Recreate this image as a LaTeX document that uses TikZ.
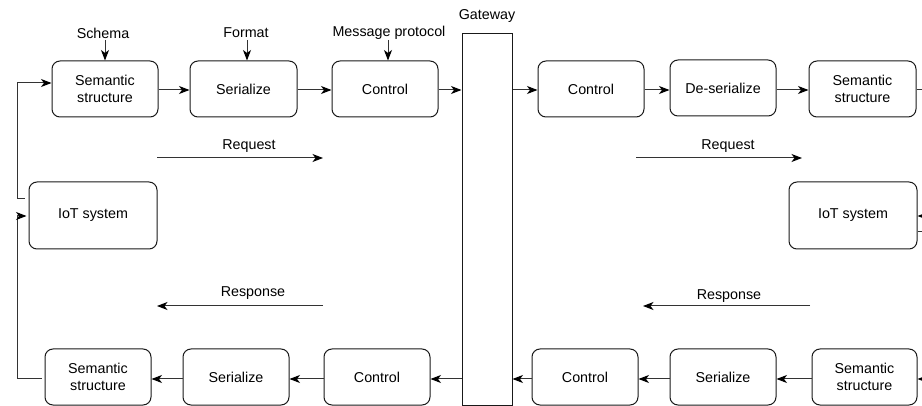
\documentclass[tikz,border=0pt]{standalone}
\usepackage{fontspec}
\setmainfont{Liberation Sans}
\usetikzlibrary{arrows.meta,calc}
\begin{document}
\begin{tikzpicture}[x=1pt,y=-1pt,
  box/.style={draw=black!90, rounded corners=8pt, line width=1pt, minimum width=106pt, minimum height=56pt, align=center, inner sep=0pt, font=\fontsize{14.3}{17}\selectfont},
  lbl/.style={font=\fontsize{14.3}{17}\selectfont, inner sep=0pt},
  conn/.style={draw=black!80, line width=1pt, -{Stealth[length=10.5pt,width=8pt,inset=3pt,color=black]}},
  wire/.style={draw=black!80, line width=1pt}]
\useasboundingbox (0,0) rectangle (922,406);
\clip (0,0) rectangle (922,406);
% gateway
\node[draw=black!90, line width=1pt, minimum width=50pt, minimum height=371pt, inner sep=0pt] (gw) at (487,219.5) {};
\node[lbl] (gwl) at (487,15.5) {Gateway};
% top row
\node[box] (ssTL) at (105,89) {Semantic\\structure};
\node[box, minimum width=107pt] (serTL) at (243.5,89) {Serialize};
\node[box] (ctlTL) at (385,89) {Control};
\node[box] (ctlTR) at (591,89) {Control};
\node[box] (deser) at (723,88) {De-serialize};
\node[box, minimum width=107pt] (ssTR) at (862.5,89) {Semantic\\structure};
% top labels
\node[lbl] (schema) at (103,33) {Schema};
\node[lbl] (format) at (246,33) {Format};
\node[lbl] (proto) at (389,33) {Message protocol};
\draw[conn] (105,40) -- (ssTL.north -| 105,0);
\draw[conn] (247,40) -- (serTL.north -| 247,0);
\draw[conn] (388,40) -- (ctlTL.north -| 388,0);
% IoT systems
\node[box, minimum width=128pt, minimum height=67pt] (iotL) at (93,215.5) {IoT system};
\node[box, minimum width=128pt, minimum height=67pt] (iotR) at (853,215.5) {IoT system};
% bottom row
\node[box] (ssBL) at (98,377) {Semantic\\structure};
\node[box] (serBL) at (236,377) {Serialize};
\node[box] (ctlBL) at (377,377) {Control};
\node[box] (ctlBR) at (585,377) {Control};
\node[box] (serBR) at (723,377) {Serialize};
\node[box, minimum width=105pt] (ssBR) at (864.5,377) {Semantic\\structure};
% top row connectors
\draw[conn] (ssTL.east |- 0,90) -- (serTL.west |- 0,90);
\draw[conn] (serTL.east |- 0,90) -- (ctlTL.west |- 0,90);
\draw[conn] (ctlTL.east |- 0,90) -- (gw.west |- 0,90);
\draw[conn] (gw.east |- 0,90) -- (ctlTR.west |- 0,90);
\draw[conn] (ctlTR.east |- 0,90) -- (deser.west |- 0,90);
\draw[conn] (deser.east |- 0,90) -- (ssTR.west |- 0,90);
\draw[wire] (ssTR.east |- 0,90) -- (940,90);
% bottom row connectors
\draw[conn] (940,379) -- (ssBR.east |- 0,379);
\draw[conn] (ssBR.west |- 0,379) -- (serBR.east |- 0,379);
\draw[conn] (serBR.west |- 0,379) -- (ctlBR.east |- 0,379);
\draw[conn] (ctlBR.west |- 0,379) -- (gw.east |- 0,379);
\draw[conn] (gw.west |- 0,379) -- (ctlBL.east |- 0,379);
\draw[conn] (ctlBL.west |- 0,379) -- (serBL.east |- 0,379);
\draw[conn] (serBL.west |- 0,379) -- (ssBL.east |- 0,379);
% left loop
\draw[conn] ([xshift=-4pt]iotL.west |- 0,199) -- (17,199) -- (17,83) -- (ssTL.west |- 0,83);
\draw[conn] ([xshift=-3pt]ssBL.west |- 0,379) -- (17,379) -- (17,216) -- ([xshift=-2pt]iotL.west |- 0,216);
% right loop (cut by the edge)
\draw[conn] (940,216) -- (iotR.east |- 0,216);
\draw[wire] (iotR.east |- 0,232) -- (940,232);
% request / response
\coordinate (rqLa) at (157,158); \coordinate (rqLb) at (323,158);
\draw[conn] (rqLa) -- (rqLb);
\node[lbl] (rqLl) at (249,146) {Request};
\coordinate (rsLa) at (323,306); \coordinate (rsLb) at (157,306);
\draw[conn] (rsLa) -- (rsLb);
\node[lbl] (rsLl) at (253,293) {Response};
\coordinate (rqRa) at (636,158); \coordinate (rqRb) at (802,158);
\draw[conn] (rqRa) -- (rqRb);
\node[lbl] (rqRl) at (728,146) {Request};
\coordinate (rsRa) at (810,306); \coordinate (rsRb) at (643,306);
\draw[conn] (rsRa) -- (rsRb);
\node[lbl] (rsRl) at (729,296) {Response};
\end{tikzpicture}
\end{document}
